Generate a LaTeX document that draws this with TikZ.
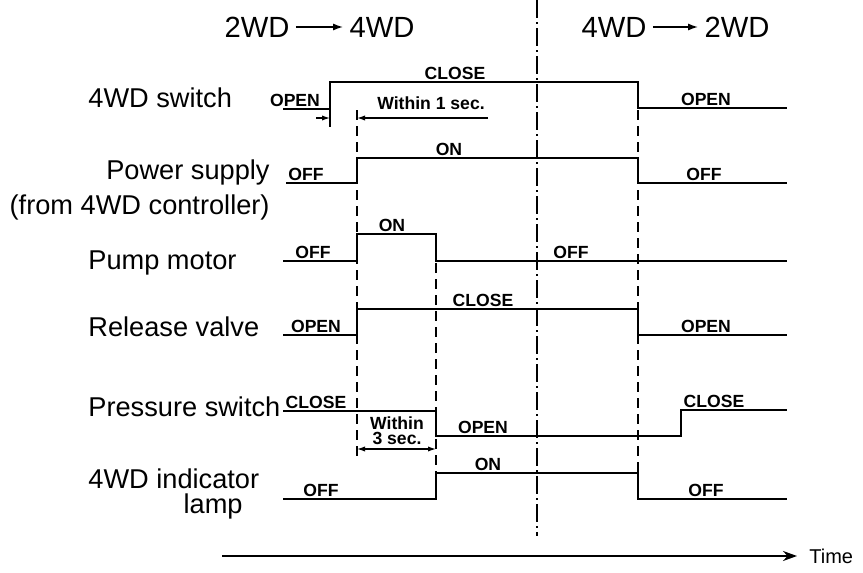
\documentclass[tikz,border=0pt]{standalone}
\usepackage{fontspec}
\setmainfont{Liberation Sans}
\usetikzlibrary{arrows.meta}

\begin{document}
\begin{tikzpicture}[x=0.5pt, y=-0.5pt,
    every node/.style={inner sep=1pt},
    lbl/.style={font=\fontsize{13.6}{15}\selectfont},
    hdr/.style={font=\fontsize{14.6}{16}\selectfont, inner sep=3pt},
    lvl/.style={font=\fontsize{8.8}{7.5}\selectfont\bfseries, anchor=south},
    sig/.style={line width=1.3pt},
    guide/.style={line width=0.8pt, dash pattern=on 5pt off 3pt},
    axis/.style={line width=0.7pt, dash pattern=on 9pt off 2pt on 1pt off 2pt},
    dim/.style={line width=0.6pt},
    tip/.style={-{Latex[length=4pt, width=2.6pt]}},
    arr/.style={-{Latex[length=5pt, width=3.5pt]}, line width=0.8pt}]
  \useasboundingbox (0,0) rectangle (863,573);

  % header
  \node[hdr] (twoA) at (257,27) {2WD};
  \node[hdr] (fourA) at (382,27) {4WD};
  \node[hdr] (fourB) at (614,27) {4WD};
  \node[hdr] (twoB) at (737,27) {2WD};
  \draw[arr] (twoA) -- (fourA);
  \draw[arr] (fourB) -- (twoB);

  % signal names
  \node[lbl, anchor=west] (sw) at (86,98) {4WD switch};
  \node[lbl, anchor=east] (pwr) at (272,172) {Power supply};
  \node[lbl, anchor=east] (pwrsrc) at (272,207) {(from 4WD controller)};
  \node[lbl, anchor=west] (pump) at (86,263) {Pump motor};
  \node[lbl, anchor=west] (rv) at (86,327) {Release valve};
  \node[lbl, anchor=west] (ps) at (86,407) {Pressure switch};
  \node[lbl, anchor=west] (lamp) at (86,479) {4WD indicator};
  \node[lbl, anchor=east] (lampb) at (245,506) {lamp};

  % guide lines
  \draw[axis] (537,0) -- (537,536);
  \draw[guide] (357,110) -- (357,456);
  \draw[guide] (436,263) -- (436,473);
  \draw[guide] (638,110) -- (638,473);

  % waveforms
  \draw[sig] (283,109) -- (330,109) -- (330,82) -- (638,82) -- (638,108) -- (787,108);
  \draw[sig] (286,183) -- (357,183) -- (357,158) -- (638,158) -- (638,183) -- (787,183);
  \draw[sig] (283,261) -- (357,261) -- (357,234) -- (436,234) -- (436,261) -- (787,261);
  \draw[sig] (283,335) -- (357,335) -- (357,309) -- (638,309) -- (638,335) -- (787,335);
  \draw[sig] (283,411) -- (436,411) -- (436,436) -- (681,436) -- (681,410) -- (787,410);
  \draw[sig] (283,499) -- (436,499) -- (436,473) -- (638,473) -- (638,499) -- (787,499);

  % levels
  \node[lvl] (swl) at (295,109) {OPEN};
  \node[lvl] (swh) at (455,82) {CLOSE};
  \node[lvl] (swr) at (706,108) {OPEN};
  \node[lvl] (pwrl) at (306,183) {OFF};
  \node[lvl] (pwrh) at (449,158) {ON};
  \node[lvl] (pwrr) at (704,183) {OFF};
  \node[lvl] (pumpl) at (313,261) {OFF};
  \node[lvl] (pumph) at (392,234) {ON};
  \node[lvl] (pumpr) at (571,261) {OFF};
  \node[lvl] (rvl) at (316,335) {OPEN};
  \node[lvl] (rvh) at (483,309) {CLOSE};
  \node[lvl] (rvr) at (706,335) {OPEN};
  \node[lvl] (psl) at (316,411) {CLOSE};
  \node[lvl] (psm) at (483,436) {OPEN};
  \node[lvl] (psr) at (714,410) {CLOSE};
  \node[lvl] (lampl) at (321,499) {OFF};
  \node[lvl] (lamph) at (488,473) {ON};
  \node[lvl] (lampr) at (706,499) {OFF};

  % within 1 sec.
  \draw[dim] (330,109) -- (330,127);
  \draw[dim, tip] (316,118) -- (330,118);
  \draw[dim, tip] (488,118) -- (357,118);
  \node[lvl, anchor=center] (onesec) at (431,103) {Within 1 sec.};

  % within 3 sec.
  \draw[dim, tip] (397,449) -- (357,449);
  \draw[dim, tip] (397,449) -- (436,449);
  \node[lvl, anchor=center, align=center] (threesec) at (397,431) {Within\\3 sec.};

  % time axis
  \node[font=\fontsize{10}{12}\selectfont, inner sep=6pt, anchor=west] (time) at (797,556) {Time};
  \coordinate (t0) at (222,556);
  \draw[line width=1pt, -{Stealth[length=7pt, width=5pt]}] (t0) -- (time);
\end{tikzpicture}
\end{document}
